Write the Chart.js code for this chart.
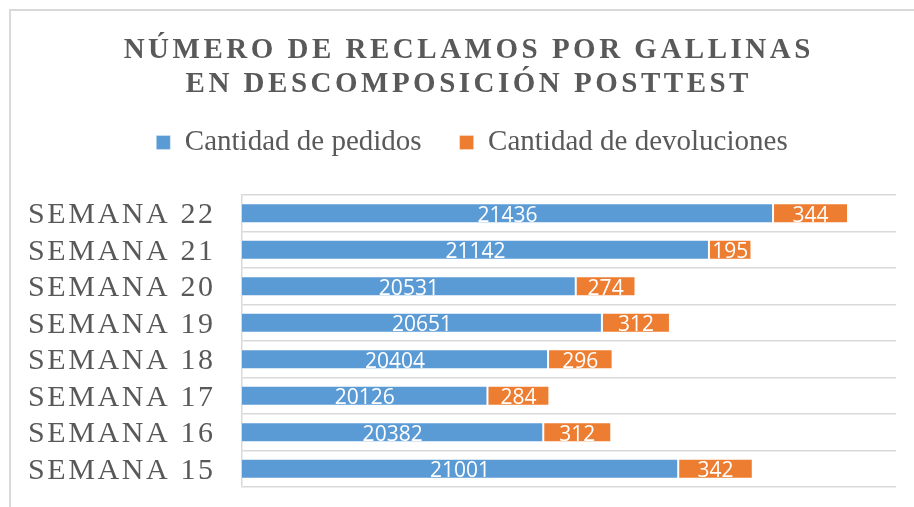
<!DOCTYPE html>
<html>
<head>
<meta charset="utf-8">
<script src="https://cdn.jsdelivr.net/npm/chart.js@4"></script>
<style>
  html, body { margin: 0; padding: 0; background: #fff; }
  #wrap { position: relative; width: 914px; height: 507px; }
</style>
</head>
<body>
<div id="wrap"><canvas id="reclamosChart" width="914" height="507"></canvas></div>
<script>
/* ---- Data ---- */
const semanas = ["SEMANA 15", "SEMANA 16", "SEMANA 17", "SEMANA 18", "SEMANA 19", "SEMANA 20", "SEMANA 21", "SEMANA 22"];
const pedidos = [21001, 20382, 20126, 20404, 20651, 20531, 21142, 21436];
const devoluciones = [342, 312, 284, 296, 312, 274, 195, 344];
const seriesNames = ["Cantidad de pedidos", "Cantidad de devoluciones"];
const titleLines = ["NÚMERO DE RECLAMOS POR GALLINAS", "EN DESCOMPOSICIÓN POSTTEST"];

(() => {
  const TEXT_GRAY = "#595959";
  const LINE_GRAY = "#d9d9d9";

  // Frame around the whole chart (only top/left edges fall inside the canvas)
  const framePlugin = {
    id: "frame",
    beforeDraw(chart){
      const ctx = chart.ctx;
      ctx.save();
      ctx.fillStyle = "#fff";
      ctx.fillRect(0, 0, chart.width, chart.height);
      ctx.strokeStyle = LINE_GRAY;
      ctx.lineWidth = 2;
      ctx.beginPath();
      ctx.moveTo(10, chart.height + 2);
      ctx.lineTo(10, 10);
      ctx.lineTo(chart.width + 2, 10);
      ctx.stroke();
      ctx.restore();
    }
  };

  // Title and category labels need letter spacing, so they are drawn here
  const spacedTextPlugin = {
    id: "spacedText",
    afterDraw(chart){
      const ctx = chart.ctx;
      const yScale = chart.scales.y;

      ctx.save();
      ctx.fillStyle = TEXT_GRAY;
      ctx.textBaseline = "alphabetic";

      // title
      const tSpace = 3.5;
      ctx.font = "bold 29px 'Liberation Serif', 'Times New Roman', serif";
      ctx.letterSpacing = tSpace + "px";
      ctx.textAlign = "center";
      const cx = chart.width / 2 + 10 + tSpace / 2;
      ctx.fillText(titleLines[0], cx, 58);
      ctx.fillText(titleLines[1], cx, 92);

      // week labels
      const lSpace = 2.6;
      ctx.font = "30px 'Liberation Serif', 'Times New Roman', serif";
      ctx.letterSpacing = lSpace + "px";
      ctx.textAlign = "right";
      semanas.forEach((s, i) => {
        const y = yScale.getPixelForValue(i);
        ctx.fillText(s, 213 + lSpace, y + 10);
      });
      ctx.restore();
    }
  };

  // Value labels centred on the visible part of each segment
  const valueLabelPlugin = {
    id: "valueLabels",
    afterDatasetsDraw(chart){
      const ctx = chart.ctx;
      const area = chart.chartArea;
      ctx.save();
      ctx.font = "21px 'Open Sans', sans-serif";
      ctx.fillStyle = "#fff";
      ctx.textAlign = "center";
      ctx.textBaseline = "alphabetic";
      chart.data.datasets.forEach((ds, di) => {
        const meta = chart.getDatasetMeta(di);
        meta.data.forEach((bar, j) => {
          const p = bar.getProps(["x", "base", "y"], true);
          const left = Math.max(Math.min(p.x, p.base), area.left);
          const right = Math.min(Math.max(p.x, p.base), area.right);
          ctx.fillText(String(ds.data[j]), (left + right) / 2, p.y + 8.5);
        });
      });
      ctx.restore();
    }
  };

  const canvas = document.getElementById("reclamosChart");

  new Chart(canvas, {
    type: "bar",
    data: {
      labels: semanas,
      datasets: [
        {
          label: seriesNames[0],
          data: pedidos,
          backgroundColor: "#5b9bd5",
          borderColor: "rgba(255,255,255,0.3)",
          borderWidth: 1,
          borderSkipped: false
        },
        {
          label: seriesNames[1],
          data: devoluciones,
          backgroundColor: "#ed7d31",
          borderColor: "rgba(255,255,255,0.3)",
          borderWidth: 1,
          borderSkipped: false
        }
      ]
    },
    options: {
      indexAxis: "y",
      responsive: false,
      animation: false,
      datasets: { bar: { categoryPercentage: 0.55, barPercentage: 1.0 } },
      layout: { padding: { top: 90, right: 18, bottom: 20, left: 48 } },
      plugins: {
        tooltip: { enabled: false },
        title: { display: false },
        legend: {
          position: "top",
          align: "center",
          labels: {
            boxWidth: 14,
            boxHeight: 14,
            padding: 38,
            color: TEXT_GRAY,
            font: { family: "'Liberation Serif', 'Times New Roman', serif", size: 29 }
          }
        }
      },
      scales: {
        x: {
          stacked: true,
          position: "top",
          min: 19000,
          max: 22000,
          ticks: { display: false },
          grid: { display: false },
          border: { display: false },
          afterFit(scale){ scale.height = 28; }
        },
        y: {
          stacked: true,
          reverse: true,
          ticks: { display: false },
          grid: { color: LINE_GRAY, lineWidth: 1.5, drawTicks: false, offset: true },
          border: { color: LINE_GRAY, width: 1.5 },
          afterFit(scale){ scale.width = 194; }
        }
      }
    },
    plugins: [framePlugin, valueLabelPlugin, spacedTextPlugin]
  });
})();
</script>
</body>
</html>
